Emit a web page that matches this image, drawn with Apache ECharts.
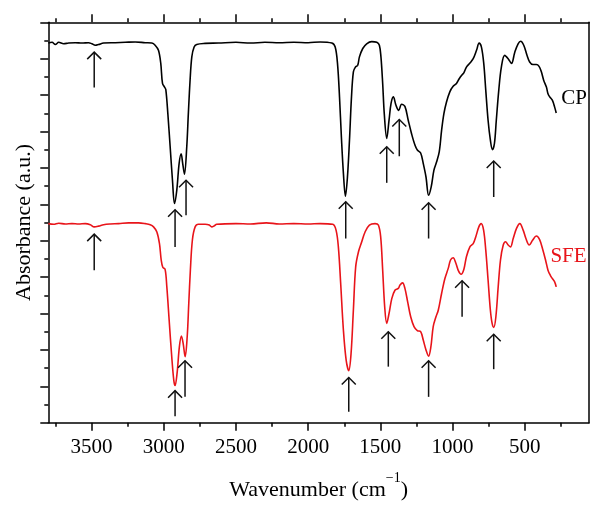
<!DOCTYPE html>
<html>
<head>
<meta charset="utf-8">
<script src="https://cdn.jsdelivr.net/npm/echarts@6/dist/echarts.min.js"></script>
<style>
html,body{margin:0;padding:0;background:#fff;}
#chart{width:604px;height:512px;}
</style>
</head>
<body>
<div id="chart"></div>
<script>
// ---- data ----
const cpWn = [3800,3774,3751,3728,3694,3659,3613,3567,3521,3498,3475,3452,3417,3336,3267,3198,3129,3083,3060,3037,3021,3009,2995,2986,2972,2956,2940,2926,2910,2894,2880,2869,2857,2841,2830,2818,2806,2790,2772,2714,2622,2500,2400,2300,2200,2100,2000,1917,1836,1813,1797,1783,1770,1756,1742,1728,1714,1700,1687,1673,1657,1645,1622,1595,1560,1525,1507,1496,1484,1473,1456,1440,1426,1410,1392,1373,1353,1330,1307,1284,1260,1244,1221,1203,1184,1166,1148,1129,1111,1092,1076,1060,1042,1019,996,973,954,938,922,904,880,857,834,816,800,784,770,754,738,724,710,697,680,662,639,615,592,569,546,528,507,484,466,443,420,401,385,369,350,339,327,309,293,282];
const cpAbs = [10.43,10.45,10.39,10.45,10.41,10.43,10.44,10.43,10.44,10.41,10.37,10.39,10.43,10.44,10.45,10.46,10.44,10.43,10.37,10.23,9.87,9.32,9.22,9.15,8.49,7.58,6.66,6.02,6.39,7.12,7.39,7.12,6.83,7.58,8.49,9.41,10.05,10.32,10.39,10.42,10.43,10.45,10.43,10.45,10.44,10.45,10.44,10.46,10.43,10.32,9.87,8.95,7.85,6.85,6.22,6.75,7.76,8.95,9.64,9.77,9.82,10.05,10.28,10.41,10.47,10.45,10.37,10.05,9.32,8.49,7.81,8.31,8.77,8.95,8.72,8.58,8.75,8.69,8.31,7.94,7.62,7.49,7.41,7.12,6.75,6.25,6.48,6.94,7.16,7.45,8.03,8.49,8.81,9.09,9.24,9.32,9.45,9.54,9.61,9.77,9.88,10.0,10.23,10.43,10.32,9.87,9.13,8.31,7.76,7.50,7.67,8.31,9.13,9.77,10.09,10.0,9.87,10.18,10.41,10.48,10.37,10.09,9.91,9.84,9.84,9.79,9.64,9.41,9.22,9.04,8.95,8.86,8.67,8.51];

const sfeWn = [3800,3763,3728,3682,3636,3590,3544,3509,3482,3452,3417,3371,3313,3244,3175,3129,3094,3071,3048,3030,3018,3007,2991,2979,2963,2945,2931,2922,2908,2892,2878,2866,2852,2838,2827,2816,2802,2783,2760,2714,2685,2668,2650,2634,2500,2400,2290,2200,2100,2000,1917,1830,1807,1791,1775,1756,1737,1719,1703,1687,1671,1652,1629,1606,1576,1537,1514,1498,1484,1470,1456,1440,1421,1399,1376,1364,1346,1330,1311,1290,1267,1244,1221,1203,1184,1166,1150,1134,1115,1099,1076,1053,1030,1014,996,977,959,941,922,904,880,857,839,818,802,785,770,754,738,726,714,700,684,668,649,633,615,599,580,557,534,511,492,469,446,420,397,374,356,339,323,309,293,282];
const sfeAbs = [5.47,5.45,5.48,5.46,5.47,5.46,5.47,5.44,5.38,5.40,5.44,5.46,5.47,5.49,5.49,5.47,5.44,5.38,5.24,4.92,4.47,4.27,4.21,3.73,2.82,1.81,1.17,1.02,1.36,2.09,2.38,2.18,1.81,2.36,3.28,4.19,5.02,5.38,5.45,5.45,5.43,5.38,5.41,5.45,5.47,5.46,5.49,5.46,5.47,5.46,5.47,5.45,5.29,4.83,3.83,2.54,1.72,1.43,1.90,3.09,4.28,4.69,4.97,5.24,5.43,5.47,5.43,5.11,4.19,3.18,2.73,3.00,3.41,3.64,3.69,3.78,3.84,3.69,3.32,2.91,2.64,2.53,2.50,2.27,2.00,1.83,2.09,2.64,2.91,3.09,3.55,3.96,4.24,4.47,4.53,4.38,4.17,4.08,4.21,4.56,4.83,4.92,5.11,5.38,5.47,5.29,4.74,3.92,3.09,2.73,2.62,2.91,3.73,4.47,4.88,4.97,4.88,4.83,5.06,5.34,5.47,5.29,5.06,4.88,5.01,5.13,5.03,4.74,4.47,4.19,4.05,3.96,3.87,3.73];

// arrows: wavenumber, tip (absorbance), tail (absorbance)
const cpArrowWn   = [3482, 2922, 2846, 1740, 1456, 1369, 1166, 715];
const cpArrowTip  = [10.18, 5.85, 6.66, 6.07, 7.58, 8.33, 6.04, 7.19];
const cpArrowTail = [9.21, 4.83, 5.70, 5.06, 6.59, 7.32, 5.06, 6.20];
const sfeArrowWn   = [3482, 2922, 2853, 1719, 1445, 1166, 934, 715];
const sfeArrowTip  = [5.18, 0.88, 1.70, 1.24, 2.50, 1.70, 3.90, 2.43];
const sfeArrowTail = [4.19, 0.18, 0.71, 0.30, 1.54, 0.71, 2.91, 1.47];

const xMajorTicks = [500,1000,1500,2000,2500,3000,3500];
const xMinorTicks = [250,750,1250,1750,2250,2750,3250,3750];
const seriesNames = ['CP','SFE'];

// ---- build ----
const zip = (a, b) => a.map((v, i) => [v, b[i]]);
const arrows = [];
cpArrowWn.forEach((w, i) => arrows.push([w, cpArrowTip[i], cpArrowTail[i]]));
sfeArrowWn.forEach((w, i) => arrows.push([w, sfeArrowTip[i], sfeArrowTail[i]]));

const FONT = 'Liberation Serif';
const BLACK = '#000';
const RED = '#e8141a';
const X_MIN = 55, X_MAX = 3800;

function xAxisBase(pos, ticks, len, showLine, showLabel) {
  return {
    type: 'value', position: pos, min: X_MIN, max: X_MAX, inverse: true,
    axisLine: { show: showLine, onZero: false, lineStyle: { color: BLACK, width: 1.5 } },
    axisTick: { show: true, inside: false, length: len, customValues: ticks, lineStyle: { color: BLACK, width: 1.5 } },
    axisLabel: { show: showLabel, customValues: xMajorTicks, margin: 14, color: BLACK, fontFamily: FONT, fontSize: 21,
                 formatter: v => String(v) },
    splitLine: { show: false }
  };
}

const chart = echarts.init(document.getElementById('chart'), null, { renderer: 'canvas' });
chart.setOption({
  animation: false,
  backgroundColor: '#fff',
  grid: { left: 48.3, right: 15, top: 22.3, bottom: 89.3, containLabel: false },
  xAxis: [
    Object.assign(xAxisBase('bottom', xMajorTicks, 8, true, true), {
      name: '{n|Wavenumber (cm}{s|−1}{n|)}', nameLocation: 'middle', nameGap: 49,
      nameTextStyle: { rich: {
        n: { fontFamily: FONT, fontSize: 22, color: BLACK, verticalAlign: 'bottom', lineHeight: 24 },
        s: { fontFamily: FONT, fontSize: 14, color: BLACK, verticalAlign: 'top', lineHeight: 30 }
      } }
    }),
    xAxisBase('bottom', xMinorTicks, 4, false, false),
    xAxisBase('top', xMajorTicks, 8, true, false),
    xAxisBase('top', xMinorTicks, 4, false, false)
  ],
  yAxis: [
    {
      type: 'value', position: 'left', min: 0, max: 11, interval: 1,
      name: 'Absorbance (a.u.)', nameLocation: 'middle', nameGap: 13,
      nameTextStyle: { fontFamily: FONT, fontSize: 22, color: BLACK },
      axisLine: { show: true, onZero: false, lineStyle: { color: BLACK, width: 1.5 } },
      axisTick: { show: true, inside: false, length: 8, lineStyle: { color: BLACK, width: 1.5 } },
      minorTick: { show: true, splitNumber: 2, length: 4, lineStyle: { color: BLACK, width: 1.5 } },
      axisLabel: { show: false },
      splitLine: { show: false }
    },
    {
      type: 'value', position: 'right', min: 0, max: 11,
      axisLine: { show: true, onZero: false, lineStyle: { color: BLACK, width: 1.5 } },
      axisTick: { show: false }, axisLabel: { show: false }, splitLine: { show: false }
    }
  ],
  graphic: [
    { type: 'text', x: 574, y: 98.5, style: { text: seriesNames[0], fill: BLACK, font: '21px "Liberation Serif"', textAlign: 'center', textVerticalAlign: 'middle' } },
    { type: 'text', x: 568.5, y: 256, style: { text: seriesNames[1], fill: RED, font: '21px "Liberation Serif"', textAlign: 'center', textVerticalAlign: 'middle' } }
  ],
  series: [
    {
      name: seriesNames[0], type: 'line', xAxisIndex: 0, yAxisIndex: 0,
      data: zip(cpWn, cpAbs), showSymbol: false, smooth: 0.35,
      lineStyle: { color: BLACK, width: 1.6 }, z: 3
    },
    {
      name: seriesNames[1], type: 'line', xAxisIndex: 0, yAxisIndex: 0,
      data: zip(sfeWn, sfeAbs), showSymbol: false, smooth: 0.35,
      lineStyle: { color: RED, width: 1.6 }, z: 3
    },
    {
      type: 'custom', xAxisIndex: 0, yAxisIndex: 0, z: 4,
      data: arrows,
      encode: { x: 0, y: [1, 2] },
      renderItem: function (params, api) {
        const tip = api.coord([api.value(0), api.value(1)]);
        const tail = api.coord([api.value(0), api.value(2)]);
        const st = { stroke: '#111', lineWidth: 1.5, fill: null };
        return {
          type: 'group',
          children: [
            { type: 'line', shape: { x1: tip[0], y1: tip[1], x2: tail[0], y2: tail[1] }, style: st },
            { type: 'polyline', shape: { points: [[tip[0] - 7, tip[1] + 7], [tip[0], tip[1]], [tip[0] + 7, tip[1] + 7]] }, style: st }
          ]
        };
      }
    }
  ]
});
</script>
</body>
</html>
